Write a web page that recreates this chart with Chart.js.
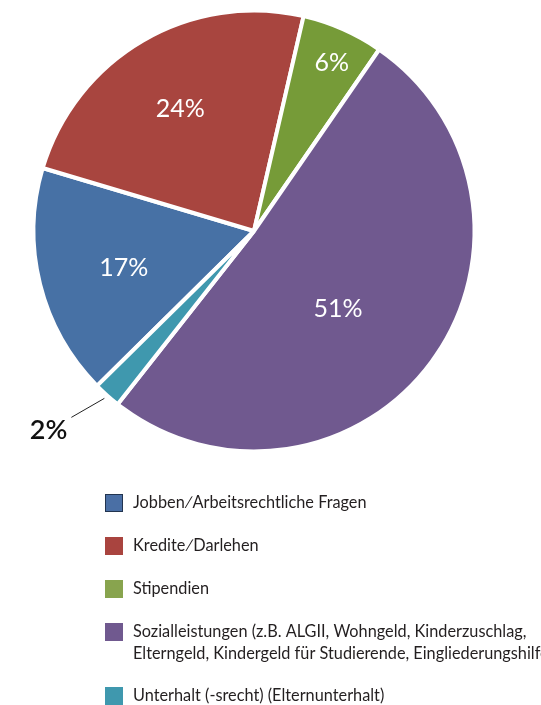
<!DOCTYPE html>
<html>
<head>
<meta charset="utf-8">
<script src="https://cdn.jsdelivr.net/npm/chart.js@4/dist/chart.umd.min.js"></script>
<style>
    html, body { margin: 0; padding: 0; background: #fff; }
    #pieChart { display: block; }
</style>
</head>
<body>
<canvas id="pieChart" width="541" height="705"></canvas>
<script>
const labels = [
    'Jobben\u2215Arbeitsrechtliche Fragen',
    'Kredite\u2215Darlehen',
    'Stipendien',
    'Sozialleistungen (z.B. ALGII, Wohngeld, Kinderzuschlag,\nElterngeld, Kindergeld für Studierende, Eingliederungshilfe)',
    'Unterhalt (-srecht) (Elternunterhalt)'
];
const shares = [17, 24, 6, 51, 2];
const sliceColors = ['#4771a5', '#a8453f', '#769b38', '#70598f', '#3f98ae'];
const legendColors = ['#4a6fa5', '#a9443f', '#88a44e', '#70598f', '#3f98ae'];

// where each percent label sits: fraction of radius + small angle nudge (deg)
// null radius = outside with a leader line
const labelRadius = [0.615, 0.645, 0.84, 0.52, null];
const labelNudge = [-2, -1, 1, 6.5, 0];

const FONT = 'Lato, "Open Sans", sans-serif';

const pieLabels = {
    id: 'pieLabels',
    afterDatasetsDraw(chart) {
        const ctx = chart.ctx;
        const meta = chart.getDatasetMeta(0);
        ctx.save();
        meta.data.forEach((arc, i) => {
            const mid = (arc.startAngle + arc.endAngle) / 2 + labelNudge[i] * Math.PI / 180;
            const text = shares[i] + '%';
            if (labelRadius[i] !== null) {
                const r = arc.outerRadius * labelRadius[i];
                ctx.fillStyle = '#ffffff';
                ctx.font = '25px ' + FONT;
                ctx.textAlign = 'center';
                ctx.textBaseline = 'middle';
                ctx.fillText(text, arc.x + Math.cos(mid) * r, arc.y + Math.sin(mid) * r);
            } else {
                const r1 = arc.outerRadius + 4;
                const x1 = arc.x + Math.cos(mid) * r1;
                const y1 = arc.y + Math.sin(mid) * r1;
                const x2 = x1 - 33;
                const y2 = y1 + 19;
                ctx.strokeStyle = '#222';
                ctx.lineWidth = 1;
                ctx.beginPath();
                ctx.moveTo(x1, y1);
                ctx.lineTo(x2, y2);
                ctx.stroke();
                ctx.fillStyle = '#111';
                ctx.font = '600 27px ' + FONT;
                ctx.textAlign = 'right';
                ctx.textBaseline = 'middle';
                ctx.fillText(text, x2 - 4, y2 + 13);
            }
        });
        ctx.restore();
    }
};

const boxLegend = {
    id: 'boxLegend',
    afterDraw(chart) {
        const ctx = chart.ctx;
        const rows = [503, 546, 589, 632, 696];
        ctx.save();
        ctx.font = '16.3px ' + FONT;
        ctx.textAlign = 'left';
        ctx.textBaseline = 'middle';
        labels.forEach((label, i) => {
            const y = rows[i];
            ctx.fillStyle = legendColors[i];
            ctx.fillRect(105, y - 9, 18, 18);
            if (i === 0) {
                ctx.strokeStyle = '#22344f';
                ctx.lineWidth = 1;
                ctx.strokeRect(105.5, y - 8.5, 17, 17);
            }
            ctx.fillStyle = '#231f20';
            label.split('\n').forEach((line, j) => {
                ctx.fillText(line, 133, y + j * 22);
            });
        });
        ctx.restore();
    }
};

const ctx = document.getElementById('pieChart').getContext('2d');
const pieChart = new Chart(ctx, {
    type: 'pie',
    data: {
        labels: labels,
        datasets: [{
            data: shares,
            backgroundColor: sliceColors,
            borderColor: '#ffffff',
            borderWidth: 4
        }]
    },
    options: {
        responsive: false,
        animation: false,
        rotation: 225.4,
        radius: 220.5,
        layout: {
            padding: { left: 33, right: 66, top: 10, bottom: 253 }
        },
        plugins: {
            legend: { display: false },
            tooltip: { enabled: false }
        }
    },
    plugins: [pieLabels, boxLegend]
});
</script>
</body>
</html>
